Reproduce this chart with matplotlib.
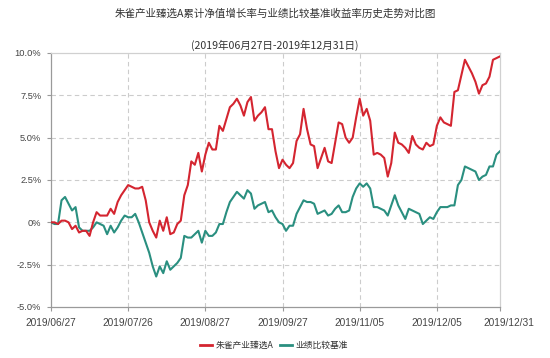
import matplotlib
matplotlib.use('Agg')
import matplotlib.pyplot as plt
from matplotlib.transforms import ScaledTranslation
from matplotlib.lines import Line2D

plt.rcParams['font.family'] = ['Noto Sans CJK SC', 'DejaVu Sans']

title = '朱雀产业臻选A累计净值增长率与业绩比较基准收益率历史走势对比图'
subtitle = '(2019年06月27日-2019年12月31日)'
series_names = ['朱雀产业臻选A', '业绩比较基准']
x_tick_labels = ['2019/06/27', '2019/07/26', '2019/08/27', '2019/09/27',
                 '2019/11/05', '2019/12/05', '2019/12/31']
x_tick_index = [0, 22, 44, 66, 88, 110, 128]
y_ticks = [-5.0, -2.5, 0.0, 2.5, 5.0, 7.5, 10.0]
y_tick_labels = ['-5.0%', '-2.5%', '0%', '2.5%', '5.0%', '7.5%', '10.0%']

fund = [0.0, 0.0, -0.1, 0.1, 0.1, 0.0, -0.4, -0.2, -0.6, -0.5,
        -0.5, -0.8, 0.0, 0.6, 0.4, 0.4, 0.4, 0.8, 0.5, 1.2,
        1.6, 1.9, 2.2, 2.1, 2.0, 2.0, 2.1, 1.3, 0.0, -0.5,
        -0.9, 0.1, -0.5, 0.3, -0.7, -0.6, -0.1, 0.1, 1.6, 2.2,
        3.6, 3.4, 4.1, 3.0, 4.0, 4.7, 4.3, 4.3, 5.7, 5.4,
        6.1, 6.8, 7.0, 7.3, 6.9, 6.3, 7.1, 7.4, 6.0, 6.3,
        6.5, 6.8, 5.5, 5.5, 4.2, 3.2, 3.7, 3.4, 3.2, 3.5,
        4.8, 5.2, 6.7, 5.5, 4.6, 4.5, 3.2, 3.8, 4.4, 3.6,
        3.5, 4.7, 5.9, 5.8, 5.0, 4.7, 5.0, 6.2, 7.3, 6.3,
        6.7, 6.0, 4.0, 4.1, 4.0, 3.8, 2.7, 3.5, 5.3, 4.7,
        4.6, 4.4, 4.1, 5.1, 4.6, 4.4, 4.3, 4.7, 4.5, 4.6,
        5.7, 6.2, 5.9, 5.8, 5.7, 7.7, 7.8, 8.7, 9.6, 9.2,
        8.8, 8.3, 7.6, 8.1, 8.2, 8.6, 9.6, 9.7, 9.8]

bench = [0.0, -0.1, -0.1, 1.3, 1.5, 1.1, 0.7, 0.9, -0.3, -0.5,
         -0.5, -0.5, -0.3, 0.0, -0.1, -0.2, -0.7, -0.2, -0.6, -0.3,
         0.1, 0.4, 0.3, 0.3, 0.5, 0.0, -0.6, -1.2, -1.8, -2.6,
         -3.2, -2.6, -3.0, -2.3, -2.8, -2.6, -2.4, -2.1, -0.8, -0.9,
         -0.9, -0.7, -0.5, -1.2, -0.5, -0.8, -0.8, -0.6, -0.1, -0.1,
         0.6, 1.2, 1.5, 1.8, 1.6, 1.4, 1.9, 1.7, 0.8, 1.0,
         1.1, 1.2, 0.6, 0.7, 0.3, 0.0, -0.1, -0.5, -0.2, -0.2,
         0.5, 0.9, 1.3, 1.2, 1.2, 1.1, 0.5, 0.6, 0.7, 0.4,
         0.5, 0.8, 1.0, 0.6, 0.6, 0.7, 1.5, 2.0, 2.3, 2.1,
         2.3, 2.0, 0.9, 0.9, 0.8, 0.7, 0.4, 1.0, 1.6, 1.0,
         0.6, 0.2, 0.8, 0.7, 0.6, 0.5, -0.1, 0.1, 0.3, 0.2,
         0.6, 0.9, 0.9, 0.9, 1.0, 1.0, 2.2, 2.5, 3.3, 3.2,
         3.1, 3.0, 2.5, 2.7, 2.8, 3.3, 3.3, 4.0, 4.2]

RED = '#d42530'
TEAL = '#2a8f80'
TICK_FONT = ['Liberation Sans', 'DejaVu Sans']

fig = plt.figure(figsize=(5.5, 3.58), dpi=100)
ax = fig.add_axes([51 / 550, 1 - 307 / 358, 449 / 550, 254 / 358])

xs = list(range(len(fund)))
ax.plot(xs, bench, color=TEAL, lw=1.5, zorder=3)
ax.plot(xs, fund, color=RED, lw=1.5, zorder=4)

ax.set_xlim(0, len(fund) - 1)
ax.set_ylim(-5, 10)

ax.set_yticks(y_ticks)
ax.set_yticklabels(y_tick_labels, family=TICK_FONT, fontsize=6.7, color='#444444')
ax.set_xticks(x_tick_index)
ax.set_xticklabels(x_tick_labels, family=TICK_FONT, fontsize=7.3, color='#444444')
ax.tick_params(axis='y', length=3, width=0.8, color='#999999', pad=4)
ax.tick_params(axis='x', length=3, width=0.8, color='#999999', pad=5)

last = ax.get_xticklabels()[-1]
last.set_transform(last.get_transform() + ScaledTranslation(9 / 100, 0, fig.dpi_scale_trans))

for y in y_ticks[1:-1]:
    ax.axhline(y, color='#cccccc', lw=0.8, ls=(0, (4, 3)), zorder=1)
for x in x_tick_index[1:-1]:
    ax.axvline(x, color='#cccccc', lw=0.8, ls=(0, (4, 3)), zorder=1)

for side in ['left', 'bottom']:
    ax.spines[side].set_color('#9a9a9a')
    ax.spines[side].set_linewidth(0.9)
for side in ['top', 'right']:
    ax.spines[side].set_color('#d0d0d0')
    ax.spines[side].set_linewidth(0.9)

fig.text(275 / 550, 1 - 14 / 358, title, ha='center', va='center', fontsize=7.6, color='#333333')
fig.text(275 / 550, 1 - 45.5 / 358, subtitle, ha='center', va='center', fontsize=7.6, color='#333333')

handles = [Line2D([], [], color=RED, lw=2), Line2D([], [], color=TEAL, lw=2)]
fig.legend(handles, series_names, loc='center', bbox_to_anchor=(274 / 550, 1 - 345.5 / 358),
           ncol=2, frameon=False, fontsize=6.3, handlelength=1.4, handletextpad=0.4,
           columnspacing=0.7, labelcolor='#333333')

fig.savefig('out.png', dpi=100)
